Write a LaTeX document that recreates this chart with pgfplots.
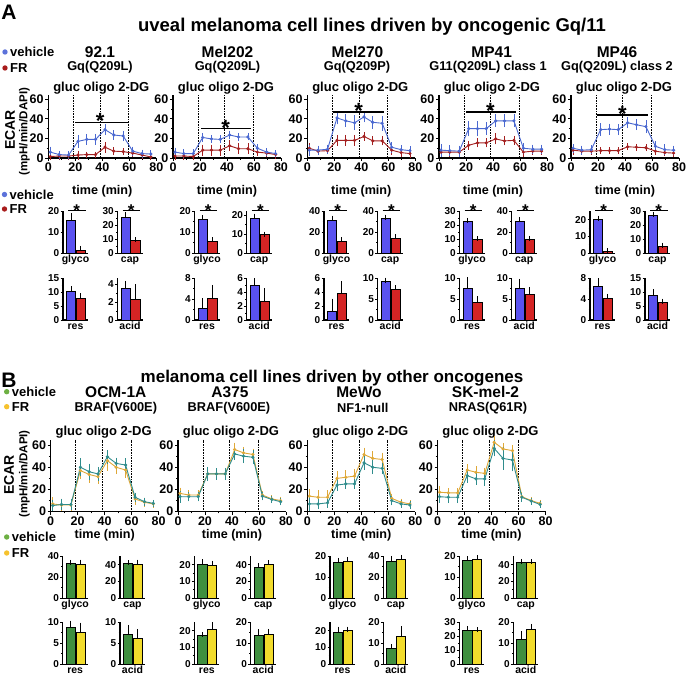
\documentclass[border=0pt]{standalone}
\usepackage{fontspec}
\setmainfont{Liberation Sans}
\usepackage{pgfplots}
\usepackage{pgfplotstable}
\pgfplotsset{compat=1.18}

\newcommand\fs[1]{\fontsize{#1}{#1}\selectfont\bfseries}

\definecolor{lblue}{HTML}{4A68D0}
\definecolor{lred}{HTML}{A31F1F}
\definecolor{bblue}{HTML}{5A52F0}
\definecolor{bred}{HTML}{D42424}
\definecolor{lteal}{HTML}{2F8C8C}
\definecolor{lgold}{HTML}{DFA838}
\definecolor{bgreen}{HTML}{3F8F3F}
\definecolor{byellow}{HTML}{F2DC2C}
\definecolor{dblue}{HTML}{5C72DA}
\definecolor{dred}{HTML}{A81C1C}
\definecolor{dgreen}{HTML}{6DB043}
\definecolor{dyellow}{HTML}{F6C22E}

\pgfplotsset{
  common/.style={scale only axis, anchor=south west, ymin=0,
    axis x line*=bottom, axis y line*=left, tick align=outside,
    axis line style={black, line width=1.1pt, -},
    every tick/.style={black, line width=0.9pt}, clip=false,
    /pgf/number format/assume math mode=true, minor y tick num=1},
  lineax/.style={common, width=108pt, xmin=0, xmax=80,
    xtick={0,20,40,60,80}, ytick={0,20,40,60}, minor x tick num=1,
    major tick length=3pt, minor tick length=1.8pt,
    ticklabel style={font=\fs{12.5}, inner sep=1.5pt}},
  barax/.style={common, width=25pt, height=42pt, xmin=0, xmax=25, xtick=\empty,
    major tick length=2.5pt, minor tick length=1.5pt,
    ticklabel style={font=\fs{10}, inner sep=1pt},
    xlabel style={at={(axis description cs:0.5,0)}, anchor=north, inner sep=0pt,
      yshift=-1.5pt, text height=7.6pt, text depth=2.2pt, font=\fs{10.5}}},
  ser/.style={color=#1, line width=0.9pt, mark=*, mark size=1.1pt,
    error bars/y dir=both, error bars/y explicit,
    error bars/error bar style={line width=0.8pt},
    error bars/error mark options={line width=0.8pt, mark size=2.5pt}},
  bar/.style={ybar, bar shift=0pt, bar width=9.3, fill=#1, draw=black, line width=0.6pt,
    error bars/y dir=plus, error bars/y explicit,
    error bars/error bar style={black, line width=0.8pt},
    error bars/error mark options={black, line width=0.8pt, mark size=2.5pt}},
}

% ECAR time courses: t, vehicle (v, ve), FR (f, fe)
\pgfplotstableread{
t v ve f fe
1.5 6 3 1.5 1
8 3.5 1.5 2 1
15 3 1.5 2 1
22 17 4 3 2
28.5 19 3 3.5 0.5
35 19 3 3.5 0.5
42 29 3 11 3
48.5 23.5 2.5 7 1.5
55.5 22.5 3 6.5 1
62.5 7 2 5 1
69.5 4.5 1.5 3 1
76 4 1.5 1 0.5
}\tA
\pgfplotstableread{
t v ve f fe
1.5 6 2 2 1.5
8 4.5 2 2 1.5
15 4.5 2 1.5 1
22 21 2 8 3
28.5 19.5 1.5 8 3
35 19 1.5 8 3
42 23.5 2 12.5 3
48.5 21.5 1.5 9.5 3
55.5 21.5 1 9.5 3
62.5 10 2 6 1.5
69.5 6 1.5 5 1
76 4.5 1 3.5 1.5
}\tB
\pgfplotstableread{
t v ve f fe
1.5 8 3 10 3
8 8 2 7 1.5
15 9 2 7.5 1
22 41 4 18 3
28.5 38 4 18 3
35 36 5 18 3
42 42 3 22 2
48.5 36.5 4 17.5 2
55.5 35.5 5 17.5 2
62.5 11 3 8 2
69.5 8.5 2 5.5 1.5
76 7.5 2 4.5 2
}\tC
\pgfplotstableread{
t v ve f fe
1.5 8 4 6 2
8 7.5 3 6 2
15 7 3 6 2
22 30 5 13 2
28.5 30 5 15.5 2
35 30 4 15.5 2
42 38 4 19.5 3
48.5 38 4 17.5 2
55.5 38 4 18 2
62.5 10 3 6 2
69.5 9 2 7 1
76 9 2 7 1
}\tD
\pgfplotstableread{
t v ve f fe
1.5 10 2 8 2
8 8 2 7 1
15 8.5 2 7 1
22 29 4 7.5 1
28.5 29.5 3 7.5 1
35 29 3 7.5 1
42 36 3 11.5 1
48.5 34 3 11 1
55.5 32 4 10.5 1
62.5 12 3 7 1
69.5 8.5 3 5.5 1
76 8 2 5 1
}\tE
\pgfplotstableread{
t v ve f fe
1.5 5.5 3 7 4
8 6.5 3 6 3
15 6.5 3 6 3
22 40 6 37 5
28.5 36 5 33.5 5
35 34 4 31.5 4
42 49.5 4 46 7
48.5 43.5 3 40 4
55.5 42 4 37.5 5
62.5 13 2 11.5 3
69.5 9 1.5 8.5 2
76 7.5 1 7 1
}\tF
\pgfplotstableread{
t v ve f fe
1.5 13.5 3 16.5 3
8 13.5 2 15 2
15 13.5 2 15 2
22 34 4 34 3
28.5 34 3 34 3
35 34 3 34 3
42 52 3 56 4
48.5 50 4 53 3
55.5 49 4 51.5 3
62.5 14 1.5 15 1.5
69.5 11 1 11.5 1
76 9 1 10 1
}\tG
\pgfplotstableread{
t v ve f fe
1.5 7 4 14 4
8 7 2 13 4
15 8 2 13 4
22 24 3 30 4
28.5 25 2 31 4
35 25 2 32 4
42 44 4 51.5 4
48.5 40 4 48 4
55.5 39 3 47 4
62.5 10 2 12 2
69.5 7 1 8.5 1
76 6 1 7 1
}\tH
\pgfplotstableread{
t v ve f fe
1.5 13.5 3 17.5 3
8 13 3 17 2
15 13 3 17 2
22 32.5 4 37.5 3
28.5 29.5 3 35.5 3
35 29.5 4 34.5 3
42 57 5 62.5 3
48.5 48 8 56.5 3
55.5 46.5 8 55 3
62.5 13 2 13.5 2
69.5 9.5 1 10 1
76 6.5 1 7.5 1
}\tI

\newcommand\sigl[4]{%
  \draw[line width=1.1pt] (axis cs:#2,#1) -- (axis cs:#3,#1);
  \node[anchor=base, inner sep=0, font=\fs{22}, yshift=-6.5pt] at (axis cs:#4,#1) {*};}

% #1 left, #2 bottom (image px), #3 height, #4 ymax, #5 extra, #6 table
\newcommand\linechart[6]{%
\begin{axis}[lineax, at={(#1pt,{(677-#2)*1pt})}, height=#3pt, ymax=#4]
\addplot[black, line width=0.6pt, densely dotted] coordinates {(18.5,0) (18.5,#4)};
\addplot[black, line width=0.6pt, densely dotted] coordinates {(38.3,0) (38.3,#4)};
\addplot[black, line width=0.6pt, densely dotted] coordinates {(59.5,0) (59.5,#4)};
\addplot[ser=\lcB] table[x=t, y=f, y error=fe] {#6};
\addplot[ser=\lcA] table[x=t, y=v, y error=ve] {#6};
#5
\end{axis}}

\newif\ifsig
% #1 left, #2 bottom, #3 ymax, #4 ticks, #5 label, #6 v1, #7 e1, #8 v2, #9 e2
\newcommand\barchart[9]{%
\begin{axis}[barax, at={(#1pt,{(677-#2)*1pt})}, ymax=#3, ytick={#4}, xlabel={#5}]
\addplot[bar=\bcA] coordinates {(8,#6) +- (0,#7)};
\addplot[bar=\bcB] coordinates {(17.8,#8) +- (0,#9)};
\ifsig
  \draw[line width=1pt] (axis cs:5,#3) ++(0,1pt) -- ++(17.5*1pt,0);
  \node[anchor=base, inner sep=0, font=\fs{17}, yshift=-4.9pt] at (axis cs:13.75,#3) {*};
\fi
\end{axis}\global\sigfalse}

\newcommand\txt[4]{\node[font=\fs{#3}, inner sep=0] at (#1pt,{(677-#2)*1pt}) {#4};}
\newcommand\rtxt[4]{\node[font=\fs{#3}, inner sep=0, rotate=90] at (#1pt,{(677-#2)*1pt}) {#4};}
\newcommand\leg[4]{%
  \fill[#3] (#1pt,{(677-#2)*1pt}) circle (2.7pt);
  \node[anchor=west, font=\fs{13}, inner sep=0] at ({(#1+5)*1pt},{(677-#2)*1pt}) {#4};}

\begin{document}
\begin{tikzpicture}
\path[use as bounding box] (0,0) rectangle (688pt,677pt);

% ---------------- panel A ----------------
\txt{9}{12.5}{21}{A}
\txt{372}{27}{18.5}{uveal melanoma cell lines driven by oncogenic Gq/11}
\leg{5}{52}{dblue}{vehicle}
\leg{5}{68}{dred}{FR}
\leg{4.5}{194.5}{dblue}{vehicle}
\leg{4.5}{209}{dred}{FR}
\rtxt{10}{130}{14}{ECAR}
\rtxt{24.5}{131.7}{11.5}{(mpH/min/DAPI)}

\txt{100}{52}{15.5}{92.1}      \txt{100}{67}{12.8}{Gq(Q209L)}
\txt{227.5}{52}{15.5}{Mel202}  \txt{227.5}{67}{12.8}{Gq(Q209L)}
\txt{357.5}{52}{15.5}{Mel270}  \txt{357}{67}{12.8}{Gq(Q209P)}
\txt{491.7}{52}{15.5}{MP41}    \txt{488}{67}{12.8}{G11(Q209L) class 1}
\txt{617}{52}{15.5}{MP46}      \txt{617}{67}{12.8}{Gq(Q209L) class 2}

\foreach \xx in {48.3,173,307.3,439,571}{
  \txt{\xx+53}{88}{13}{gluc oligo 2-DG}
  \txt{\xx+54}{191}{12.6}{time (min)}
}

\def\lcA{lblue}\def\lcB{lred}
\linechart{48.3}{158}{62.6}{64}{\sigl{36.5}{20}{59}{38.5}}{\tA}
\linechart{173}{158}{62.6}{64}{\sigl{30}{21}{58}{39}}{\tB}
\linechart{307.3}{158}{62.6}{64}{\sigl{47}{19}{57}{38}}{\tC}
\linechart{439}{158}{62.6}{64}{\sigl{47}{20}{57}{38}}{\tD}
\linechart{571}{158}{62.6}{64}{\sigl{44}{19}{57}{38}}{\tE}

\def\bcA{bblue}\def\bcB{bred}
\sigtrue\barchart{63}{253.3}{20}{0,10,20}{glyco}{15.5}{2.5}{1.5}{0.8}
\sigtrue\barchart{117.5}{253.3}{30}{0,10,20,30}{cap}{25.5}{2}{9}{0.5}
\sigtrue\barchart{194.5}{253.3}{20}{0,10,20}{glyco}{16.2}{0.7}{5.6}{0.8}
\sigtrue\barchart{246.7}{253.3}{22}{0,10,20}{cap}{18.5}{1}{9.7}{0.3}
\sigtrue\barchart{324}{253.3}{40}{0,20,40}{glyco}{31.5}{2}{11}{2}
\sigtrue\barchart{377.7}{253.3}{40}{0,20,40}{cap}{33}{1.5}{14.5}{1.2}
\sigtrue\barchart{459.5}{253.3}{30}{0,10,20,30}{glyco}{22.5}{1}{10}{0.5}
\sigtrue\barchart{511.7}{253.3}{40}{0,20,40}{cap}{30}{2}{13.5}{0.8}
\sigtrue\barchart{590}{253.3}{25}{0,10,20}{glyco}{20.5}{0.5}{1}{0.5}
\sigtrue\barchart{645}{253.3}{30}{0,10,20,30}{cap}{27}{1}{5}{0.8}

\barchart{63}{320}{15}{0,5,10,15}{res}{10.3}{0.8}{7.6}{1}
\barchart{117.5}{320}{4.7}{0,2,4}{acid}{3.5}{0.6}{2.3}{1.4}
\barchart{194.5}{320}{8}{0,4,8}{res}{2.3}{1.4}{4.1}{2.1}
\barchart{246.7}{320}{6}{0,2,4,6}{acid}{5}{0.6}{2.7}{1.5}
\barchart{324}{320}{6}{0,2,4,6}{res}{1.2}{1.5}{3.8}{1.4}
\barchart{377.7}{320}{10}{0,5,10}{acid}{9.3}{0.2}{7.4}{0.3}
\barchart{459.5}{320}{10}{0,5,10}{res}{7.6}{2}{4.1}{1}
\barchart{511.7}{320}{10}{0,5,10}{acid}{7.6}{1.6}{6.1}{1.2}
\barchart{590}{320}{8}{0,4,8}{res}{6.5}{1}{4.1}{0.4}
\barchart{645}{320}{15}{0,5,10,15}{acid}{8.8}{1.3}{6.3}{0.4}

% ---------------- panel B ----------------
\txt{9}{380}{21}{B}
\txt{332}{378}{17}{melanoma cell lines driven by other oncogenes}
\leg{6.7}{391.7}{dgreen}{vehicle}
\leg{6.7}{406.7}{dyellow}{FR}
\leg{6.7}{537}{dgreen}{vehicle}
\leg{6.7}{553}{dyellow}{FR}
\rtxt{9}{475}{14}{ECAR}
\rtxt{24.5}{474}{11.5}{(mpH/min/DAPI)}

\txt{115.8}{392}{15.5}{OCM-1A}  \txt{115.8}{408}{12.8}{BRAF(V600E)}
\txt{230}{392}{15.5}{A375}      \txt{229}{408}{12.8}{BRAF(V600E)}
\txt{359}{392}{15.5}{MeWo}      \txt{362.8}{408}{12.8}{NF1-null}
\txt{485.5}{392}{15.5}{SK-mel-2} \txt{488}{408}{12.8}{NRAS(Q61R)}

\foreach \xx in {50.7,178,307.3,437.5}{
  \txt{\xx+53}{432}{13}{gluc oligo 2-DG}
  \txt{\xx+54}{535}{12.6}{time (min)}
}

\def\lcA{lteal}\def\lcB{lgold}
\linechart{50.7}{511.7}{72.2}{65}{}{\tF}
\linechart{178}{511.7}{72.2}{65}{}{\tG}
\linechart{307.3}{511.7}{72.2}{65}{}{\tH}
\linechart{437.5}{511.7}{72.2}{65}{}{\tI}

\def\bcA{bgreen}\def\bcB{byellow}
\barchart{62.7}{598.3}{40}{0,20,40}{glyco}{33}{1.2}{32}{2.5}
\barchart{120}{598.3}{50}{0,20,40}{cap}{42}{0.5}{40}{3}
\barchart{194.3}{598.3}{25}{0,10,20}{glyco}{20}{1.8}{19.7}{1.2}
\barchart{250.7}{598.3}{50}{0,20,40}{cap}{37}{2}{40.5}{2}
\barchart{330}{598.3}{20}{0,10,20}{glyco}{17}{1}{17.5}{1}
\barchart{383.3}{598.3}{40}{0,20,40}{cap}{35.5}{2.5}{37}{2}
\barchart{459.3}{598.3}{20}{0,10,20}{glyco}{18}{0.8}{18.5}{0.8}
\barchart{513.3}{598.3}{50}{0,20,40}{cap}{43}{1}{43}{0.8}

\barchart{62.7}{664.3}{10}{0,5,10}{res}{8.8}{1}{7.7}{1.6}
\barchart{120}{664.3}{10}{0,5,10}{acid}{7.1}{1.7}{6.3}{1.5}
\barchart{194.3}{664.3}{25}{0,10,20}{res}{17}{0.8}{21}{2.5}
\barchart{250.7}{664.3}{20}{0,10,20}{acid}{14}{1.5}{14.2}{1.5}
\barchart{330}{664.3}{25}{0,10,20}{res}{19}{2}{20}{1}
\barchart{383.3}{664.3}{20}{0,10,20}{acid}{7.5}{0.8}{13.5}{3.5}
\barchart{459.3}{664.3}{30}{0,10,20,30}{res}{24.5}{1}{24}{0.7}
\barchart{513.3}{664.3}{20}{0,10,20}{acid}{12}{2.5}{16.5}{1.5}

\end{tikzpicture}
\end{document}
